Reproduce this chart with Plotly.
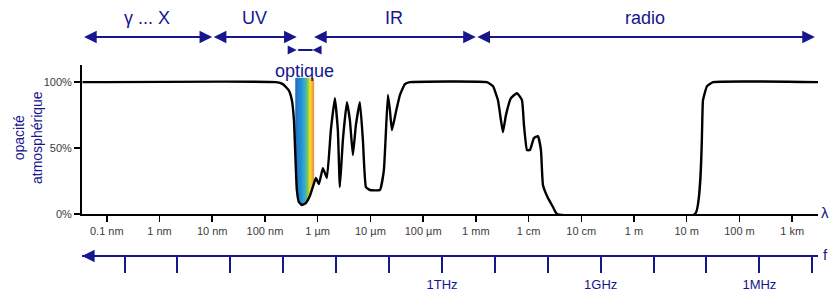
import numpy as np
import plotly.graph_objects as go

# ---------------- data ----------------
# atmospheric opacity curve: x = log10(wavelength in metres), y = opacity in %
log10_wavelength_m = [-10.46, -6.79, -6.66, -6.55, -6.49, -6.45, -6.42, -6.395, -6.357, -6.30,
                      -6.224, -6.148, -6.091, -6.034, -5.977, -5.901, -5.825, -5.750, -5.674, -5.617,
                      -5.579, -5.522, -5.446, -5.389, -5.332, -5.275, -5.199, -5.142, -5.085, -5.009,
                      -4.820, -4.744, -4.668, -4.630, -4.592, -4.516, -4.440, -4.345, -4.250, -2.789,
                      -2.676, -2.581, -2.524, -2.486, -2.429, -2.334, -2.220, -2.125, -2.087, -2.030,
                      -1.973, -1.898, -1.822, -1.765, -1.727, -1.632, -1.537, -1.461, 1.158, 1.309,
                      1.385, 1.499, 3.49]
opacity_pct = [100, 100, 98.5, 93.9, 86.4, 71.2, 40.9, 18.2, 9.1, 6.8,
               8.3, 13.6, 20.5, 27.3, 22.7, 34.8, 27.3, 63.6, 87.9, 63.6,
               20.5, 56.1, 84.8, 71.2, 44.7, 67.4, 84.8, 56.1, 20.5, 18.2,
               18.2, 33.3, 90.2, 78.8, 63.6, 77.3, 90.2, 98.5, 100, 100,
               97, 86.4, 71.2, 62.1, 75, 87.9, 91.7, 86.4, 67.4, 48.5,
               48.5, 57.6, 59.1, 48.5, 22, 12.1, 5.3, 0, 0, 86.4,
               97, 100, 100]

# wavelength axis ticks
wl_tick_m = [1e-10, 1e-9, 1e-8, 1e-7, 1e-6, 1e-5, 1e-4, 1e-3, 1e-2, 1e-1, 1e0, 1e1, 1e2, 1e3]
wl_tick_text = ["0.1 nm", "1 nm", "10 nm", "100 nm", "1 µm", "10 µm", "100 µm",
                "1 mm", "1 cm", "10 cm", "1 m", "10 m", "100 m", "1 km"]

# frequency axis ticks
freq_tick_hz = [1e18, 1e17, 1e16, 1e15, 1e14, 1e13, 1e12, 1e11, 1e10, 1e9, 1e8, 1e7, 1e6, 1e5]
freq_tick_text = ["", "", "", "", "", "", "1THz", "", "", "1GHz", "", "", "1MHz", ""]

# spectral bands (wavelength in metres)
band_names = ["γ ... X", "UV", "IR", "radio"]
band_start_m = [3.47e-11, 1e-8, 8e-7, 1e-3]
band_end_m = [1e-8, 4e-7, 1e-3, 2.7e3]
optical_range_m = [4e-7, 8e-7]
visible_fill_m = [3.8e-7, 8.4e-7]
y_ticks = [0, 50, 100]
y_tick_text = ["0%", "50%", "100%"]

# ---------------- styling ----------------
NAVY = "#16168e"
FONT = "Liberation Sans, Arial, sans-serif"
W, H = 830, 291
M_L, M_R, M_T, M_B = 82, 12, 65, 35
PLOT_H = H - M_T - M_B


def py(pixel_y):
    """paper y for a pixel row"""
    return (H - M_B - pixel_y) / PLOT_H


Y_DOMAIN_BOTTOM = py(214)
BAND_TOP = 103

fig = go.Figure()

# rainbow band of the visible window
stops = [(0.0, "#1b6cbe"), (0.25, "#1e86d0"), (0.45, "#2aa2d8"), (0.56, "#3fb4b8"),
         (0.68, "#88c542"), (0.80, "#ece032"), (0.90, "#f2c030"), (1.0, "#ee8a2e")]


def hex_rgb(h):
    return tuple(int(h[i:i + 2], 16) for i in (1, 3, 5))


def colour_at(t):
    for (t0, c0), (t1, c1) in zip(stops[:-1], stops[1:]):
        if t <= t1:
            f = (t - t0) / (t1 - t0) if t1 > t0 else 0
            a, b = hex_rgb(c0), hex_rgb(c1)
            return "rgb(%d,%d,%d)" % tuple(round(a[k] + (b[k] - a[k]) * f) for k in range(3))
    return stops[-1][1]


lx = np.array(log10_wavelength_m)
ly = np.array(opacity_pct)
n_strips = 40
edges = np.linspace(np.log10(visible_fill_m[0]), np.log10(visible_fill_m[1]), n_strips + 1)
for i in range(n_strips):
    x0, x1 = edges[i], edges[i + 1]
    xs = np.linspace(x0, x1, 4)
    bottom = np.interp(xs, lx, ly)
    px = [x0, x1] + list(xs[::-1])
    pyv = [BAND_TOP, BAND_TOP] + list(bottom[::-1])
    col = colour_at((i + 0.5) / n_strips)
    fig.add_trace(go.Scatter(x=10 ** np.array(px), y=pyv, fill="toself", fillcolor=col,
                             mode="lines", line=dict(color=col, width=0.8),
                             hoverinfo="skip", showlegend=False))

# opacity curve
fig.add_trace(go.Scatter(x=10 ** lx, y=ly, mode="lines",
                         line=dict(color="black", width=2.4, shape="spline", smoothing=0.35),
                         hoverinfo="skip", showlegend=False))

# dummy trace so the frequency axis is drawn
fig.add_trace(go.Scatter(x=[freq_tick_hz[6]], y=[None], xaxis="x2", yaxis="y", mode="markers",
                         hoverinfo="skip", showlegend=False))

annotations = []
ARROW_Y = py(37)
for name, s, e in zip(band_names, band_start_m, band_end_m):
    annotations.append(dict(x=np.log10(e), y=ARROW_Y, xref="x", yref="paper",
                            ax=np.log10(s), ay=0, axref="x", ayref="pixel",
                            text="", showarrow=True, arrowside="end+start",
                            arrowhead=2, startarrowhead=2, arrowsize=1.15, startarrowsize=1.15,
                            arrowwidth=2.2, arrowcolor=NAVY))
    annotations.append(dict(x=(np.log10(s) + np.log10(e)) / 2, y=py(18), xref="x", yref="paper",
                            text=name, showarrow=False, font=dict(family=FONT, size=18, color=NAVY),
                            xanchor="center", yanchor="middle"))

# optical window marker (inward heads)
OPT_Y = py(50)
lo, hi = np.log10(optical_range_m[0]), np.log10(optical_range_m[1])
annotations.append(dict(x=lo, y=OPT_Y, xref="x", yref="paper", ax=lo - 0.19, ay=0, axref="x",
                        ayref="pixel", text="", showarrow=True, arrowhead=2, arrowsize=1.0,
                        arrowwidth=1.8, arrowcolor=NAVY))
annotations.append(dict(x=hi, y=OPT_Y, xref="x", yref="paper", ax=hi + 0.15, ay=0, axref="x",
                        ayref="pixel", text="", showarrow=True, arrowhead=2, arrowsize=1.0,
                        arrowwidth=1.8, arrowcolor=NAVY))
annotations.append(dict(x=hi, y=OPT_Y, xref="x", yref="paper", ax=lo, ay=0, axref="x",
                        ayref="pixel", text="", showarrow=True, arrowhead=0,
                        arrowwidth=1.8, arrowcolor=NAVY))
annotations.append(dict(x=(lo + hi) / 2, y=py(71), xref="x", yref="paper", text="optique",
                        showarrow=False, font=dict(family=FONT, size=18, color=NAVY),
                        xanchor="center", yanchor="middle"))

# axis end labels
annotations.append(dict(x=1, y=py(212), xref="paper", yref="paper", text="λ", showarrow=False,
                        xanchor="left", yanchor="middle", xshift=1,
                        font=dict(family=FONT, size=15, color=NAVY)))
annotations.append(dict(x=1, y=py(254), xref="paper", yref="paper", text="f", showarrow=False,
                        xanchor="left", yanchor="middle", xshift=3,
                        font=dict(family=FONT, size=15, color=NAVY)))
# arrow head at the left of the frequency axis
annotations.append(dict(x=0, y=0, xref="paper", yref="paper", ax=40, ay=0, text="", showarrow=True,
                        arrowhead=2, arrowsize=1.15, arrowwidth=2.2, arrowcolor=NAVY))
# y title
annotations.append(dict(x=(28 - M_L) / (W - M_L - M_R), y=py(137), xref="paper", yref="paper",
                        text="opacité<br>atmosphérique", showarrow=False, textangle=-90,
                        xanchor="center", yanchor="middle",
                        font=dict(family=FONT, size=14, color=NAVY)))

fig.update_layout(
    width=W, height=H, margin=dict(l=M_L, r=M_R, t=M_T, b=M_B, pad=0, autoexpand=False),
    paper_bgcolor="white", plot_bgcolor="white", hovermode=False, showlegend=False,
    font=dict(family=FONT),
    xaxis=dict(type="log", range=[-10.47, 3.49], anchor="y", showgrid=False, zeroline=False,
               automargin=False, showline=True, linecolor="black", linewidth=2,
               ticks="outside", ticklen=6, tickwidth=1.5, tickcolor="black",
               tickvals=wl_tick_m, ticktext=wl_tick_text,
               tickfont=dict(family=FONT, size=11, color="#3c3c3c")),
    xaxis2=dict(type="log", range=[18.805, 4.892], anchor="free", position=0, overlaying="x",
                side="bottom", showgrid=False, zeroline=False, automargin=False,
                showline=True, linecolor=NAVY, linewidth=2.2,
                ticks="outside", ticklen=16, tickwidth=2, tickcolor=NAVY,
                tickvals=freq_tick_hz, ticktext=freq_tick_text,
                tickfont=dict(family=FONT, size=13, color=NAVY)),
    yaxis=dict(range=[0, 113], domain=[Y_DOMAIN_BOTTOM, 1], anchor="x", showgrid=False,
               zeroline=False, automargin=False, showline=True, linecolor="black", linewidth=2,
               ticks="outside", ticklen=6, tickwidth=1.5, tickcolor="black",
               tickvals=y_ticks, ticktext=y_tick_text,
               tickfont=dict(family=FONT, size=11, color="#3c3c3c")),
    annotations=annotations,
)

fig.write_html("out.html", config={"displayModeBar": False, "staticPlot": True},
               post_script="document.body.style.margin='0';")
